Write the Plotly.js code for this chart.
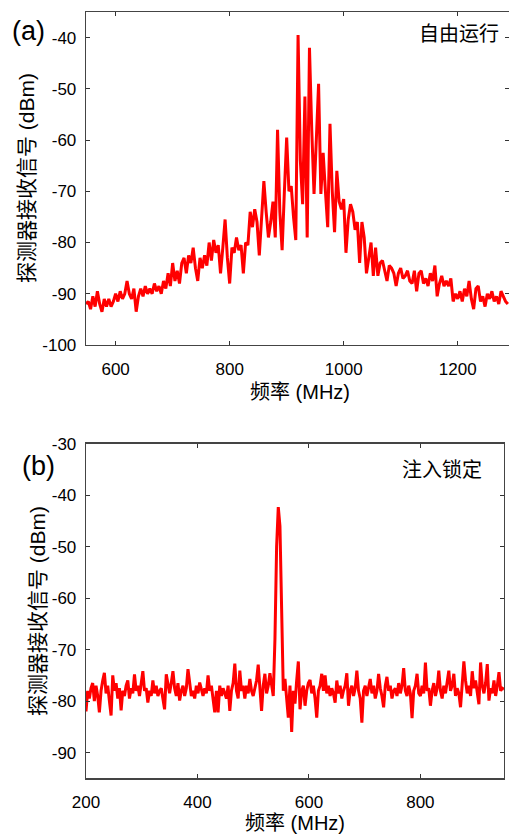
<!DOCTYPE html>
<html>
<head>
<meta charset="utf-8">
<script src="https://cdn.plot.ly/plotly-3.0.1.min.js"></script>
<style>html,body{margin:0;padding:0;background:#fff;}#chart{width:509px;height:835px;}</style>
</head>
<body>
<div id="chart"></div>
<script>
// (a) free-running spectrum: frequency grid (MHz) and detected power (dBm)
const freqA_start = 548, freqA_step = 4;
const powerA = [
 -92,-91.5,-93,-90.5,-92.5,-89.5,-92,-93.5,-91,-92.5,
 -91,-92.5,-91.5,-90,-91.5,-89.5,-91,-90,-87.5,-90,
 -91,-89,-93.5,-90.5,-89,-90.5,-88.5,-90,-89,-90,
 -88,-89.5,-88.5,-90,-87.5,-89,-86,-88.5,-84,-87.5,
 -85.5,-88,-84,-83,-86,-82.5,-84,-81,-85,-87.5,
 -83,-85,-82.5,-84.5,-80,-83.5,-79.5,-82,-80.5,-86,
 -81,-75.5,-83,-88,-81,-82,-79,-81.5,-80.5,-86,
 -80,-80.5,-74,-77,-73.5,-76,-82.5,-75,-68,-74,
 -79,-76,-72,-79,-58,-74,-81.5,-70,-59.5,-70,
 -69,-75,-79.5,-39.5,-64,-72.5,-51.5,-79,-42,-58,
 -70.5,-60,-49,-70.5,-62.5,-70,-77,-56.8,-70,-78,
 -66,-72,-73.5,-71.5,-82,-75.5,-72.5,-74,-77.5,-76,
 -84,-76,-79,-86,-83,-80,-86.5,-81,-86.5,-84,
 -83.5,-85.5,-87.5,-84.5,-85,-86,-88.5,-86,-85,-87,
 -86.5,-85.5,-87.5,-88,-85.5,-89.5,-86,-85.5,-88,-87,
 -88.5,-86,-87.5,-84.5,-90.5,-88,-86.5,-88.5,-87.5,-88.5,
 -87,-91.5,-90,-91,-89.5,-91.5,-89,-90.5,-87.5,-91,
 -93,-89,-88.5,-91.5,-90.5,-92.5,-90,-91,-89.5,-91.5,
 -90.5,-92,-89.5,-90.5,-91.5,-92
];
// (b) injection-locked spectrum
const freqB_start = 200, freqB_step = 3;
const powerB = [
 -82,-78,-79.5,-77.5,-76.5,-80,-77,-79,-82.2,-78,
 -76,-74.5,-78.5,-77,-80,-82.8,-75,-78,-76.5,-79.5,
 -77.5,-81.8,-78,-79,-77,-76,-79.5,-77.5,-78.5,-74.8,
 -78,-77,-79,-76.5,-74.2,-78,-77.5,-80.3,-78,-79,
 -76,-78.5,-77,-79,-78,-77.5,-80,-81.6,-74.8,-77,
 -78.5,-76.5,-74.2,-77.5,-79,-76.5,-79.9,-78,-77,-79,
 -77.5,-73.8,-77,-79,-78,-79.5,-77,-78.5,-76.4,-78,
 -79,-77.5,-78.5,-75,-78,-77,-79.5,-82.2,-78,-82.2,
 -77,-79,-77.5,-78.5,-79.5,-77,-81.9,-78,-76.5,-72.7,
 -78,-79.5,-74.1,-78,-77,-79.5,-77,-78.5,-75.7,-78,
 -79,-77.5,-76,-72.9,-78,-81.9,-77,-74.7,-78.5,-77,
 -74.6,-77.3,-79,-68,-50,-42.3,-46,-62,-78,-75.7,
 -79,-83.2,-77,-86,-78,-80.5,-76,-72.3,-81.6,-78,
 -77,-80.9,-78,-76.5,-75.9,-78.5,-77,-79.5,-83.2,-78,
 -77,-74.7,-78,-75,-78.5,-77,-79,-77.5,-78.5,-80.3,
 -76,-78.5,-77,-79.5,-78,-77,-74.6,-80.9,-78,-77,
 -79,-77.5,-74.1,-78,-79.5,-84.2,-78,-77,-79,-77.5,
 -75.7,-78.5,-77,-79.5,-78,-74.7,-77.5,-79,-81.2,-77,
 -75.3,-78,-77,-79.5,-78,-77.5,-79,-76.5,-78.5,-77,
 -73.6,-78,-79,-77,-78.5,-83.3,-78,-77,-74.7,-78.5,
 -79,-77,-78.5,-72.5,-78,-77.5,-80.9,-78,-76.5,-79,
 -77.5,-74.1,-78,-79.5,-77,-78.5,-76.5,-74.1,-78,-77,
 -74.7,-79,-77.5,-78.5,-81.2,-77,-72.3,-76,-78.5,-77,
 -79,-74.2,-77.5,-76,-78.5,-80.6,-72.5,-77,-78.5,-76.5,
 -72.8,-79.9,-77.5,-78.5,-76,-79,-77,-74.4,-78,-77.5,
 -77.7
];
// tick labels
const xTicksA = [600, 800, 1000, 1200];
const xTickTextA = ['600', '800', '1000', '1200'];
const yTicksA = [-100, -90, -80, -70, -60, -50, -40];
const yTickTextA = ['-100', '-90', '-80', '-70', '-60', '-50', '-40'];
const xTicksB = [200, 400, 600, 800];
const xTickTextB = ['200', '400', '600', '800'];
const yTicksB = [-90, -80, -70, -60, -50, -40, -30];
const yTickTextB = ['-90', '-80', '-70', '-60', '-50', '-40', '-30'];

const xTitle = '频率 (MHz)';
const yTitle = '探测器接收信号 (dBm)';
const labelA = '自由运行', labelB = '注入锁定';
const panelA = '(a)', panelB = '(b)';

const freqA = powerA.map((_, i) => freqA_start + i * freqA_step);
const freqB = powerB.map((_, i) => freqB_start + i * freqB_step);

const FONT = 'Liberation Sans, Arial, Noto Sans CJK SC, sans-serif';
const W = 509, H = 835;
const px = v => v / W, py = v => 1 - v / H;

const lineStyle = {color: '#ff0000', width: 3};
const traces = [
  {x: freqA, y: powerA, type: 'scatter', mode: 'lines', line: lineStyle, xaxis: 'x', yaxis: 'y', hoverinfo: 'x+y'},
  {x: freqB, y: powerB, type: 'scatter', mode: 'lines', line: lineStyle, xaxis: 'x2', yaxis: 'y2', hoverinfo: 'x+y'}
];

const axisCommon = {
  showline: true, linecolor: '#444', linewidth: 1.3, mirror: 'ticks',
  ticks: 'inside', ticklen: 4, tickwidth: 1, tickcolor: '#333',
  showgrid: false, zeroline: false, automargin: false,
  tickmode: 'array',
  tickfont: {family: FONT, size: 17, color: '#000'}
};

const layout = {
  width: W, height: H,
  margin: {l: 0, r: 0, t: 0, b: 0},
  paper_bgcolor: '#fff', plot_bgcolor: '#fff',
  showlegend: false,
  xaxis: Object.assign({}, axisCommon, {domain: [px(86), 1], range: [548, 1290], tickvals: xTicksA, ticktext: xTickTextA, ticklabelstandoff: 8, anchor: 'y'}),
  yaxis: Object.assign({}, axisCommon, {domain: [py(345), py(12)], range: [-100, -35], tickvals: yTicksA, ticktext: yTickTextA, ticklabelstandoff: 5, anchor: 'x'}),
  xaxis2: Object.assign({}, axisCommon, {domain: [px(86), px(504)], range: [200, 950], tickvals: xTicksB, ticktext: xTickTextB, ticklabelstandoff: 8, anchor: 'y2'}),
  yaxis2: Object.assign({}, axisCommon, {domain: [py(778.3), py(443.7)], range: [-95, -30], tickvals: yTicksB, ticktext: yTickTextB, ticklabelstandoff: 5, anchor: 'x2'}),
  annotations: [
    {text: xTitle, x: px(300), y: py(392), font: {family: FONT, size: 20, color: '#000'}},
    {text: xTitle, x: px(295), y: py(823), font: {family: FONT, size: 20, color: '#000'}},
    {text: yTitle, x: px(27), y: py(178), textangle: -90, font: {family: FONT, size: 21, color: '#000'}},
    {text: yTitle, x: px(37), y: py(611), textangle: -90, font: {family: FONT, size: 21, color: '#000'}},
    {text: labelA, x: px(459), y: py(34), font: {family: FONT, size: 20, color: '#000'}},
    {text: labelB, x: px(442), y: py(470), font: {family: FONT, size: 20, color: '#000'}},
    {text: panelA, x: px(28), y: py(31), font: {family: FONT, size: 27, color: '#000'}},
    {text: panelB, x: px(38), y: py(466), font: {family: FONT, size: 27, color: '#000'}}
  ].map(a => Object.assign({xref: 'paper', yref: 'paper', xanchor: 'center', yanchor: 'middle', showarrow: false}, a))
};

Plotly.newPlot('chart', traces, layout, {displayModeBar: false, staticPlot: true});
</script>
</body>
</html>
